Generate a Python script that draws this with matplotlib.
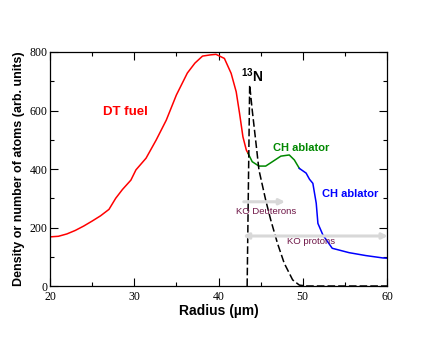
#!/usr/bin/env python3

import numpy as np
import matplotlib
matplotlib.use("Agg")
import matplotlib.pyplot as plt
from matplotlib.ticker import MultipleLocator

# DT fuel (red)
r_fuel = [20, 21, 22, 23, 24, 25, 26, 27, 27.8, 28.6, 29.6, 30.2, 31.4, 32.6, 33.8,
          35.0, 36.3, 37.2, 38.1, 39.0, 39.7, 40.7, 41.5, 42.1, 42.5, 42.9, 43.3, 43.5]
d_fuel = [168, 170, 178, 190, 205, 222, 240, 262, 300, 330, 362, 397, 437, 499, 567,
          653, 728, 762, 786, 790, 792, 778, 727, 664, 590, 510, 465, 454]

# CH ablator, inner part (green)
r_ch1 = [43.5, 44.0, 44.8, 45.6, 46.4, 47.4, 48.4, 49.0, 49.6]
d_ch1 = [454, 425, 410, 410, 425, 444, 448, 431, 402]

# CH ablator, outer part (blue)
r_ch2 = [49.6, 50.4, 50.8, 51.2, 51.6, 51.8, 52.4, 53.5, 55.5, 57.5, 59.5, 60]
d_ch2 = [402, 386, 365, 351, 283, 214, 174, 129, 114, 104, 96, 95]

# 13N distribution (black dashed)
r_n13 = [43.4, 43.7, 44.0, 44.45, 44.8, 45.6, 46.2, 47.0, 47.8, 48.8, 49.6, 50.5, 60]
d_n13 = [0, 687, 602, 488, 397, 294, 226, 146, 78, 21, 3, 0, 0]

# knock-on arrows: (x start, x end, y)
ko_deut = (43.0, 47.9, 288)
ko_prot = (42.9, 60.1, 171)

plt.rcParams['font.family'] = ['Liberation Sans', 'DejaVu Sans']
plt.rcParams['mathtext.fontset'] = 'custom'
plt.rcParams['mathtext.bf'] = 'Liberation Sans:bold'
plt.rcParams['mathtext.rm'] = 'Liberation Sans'

fig = plt.figure(figsize=(4.36, 3.37), dpi=100)
ax = fig.add_axes([0.1147, 0.1513, 0.7729, 0.6944])

ax.plot(r_fuel, d_fuel, color='red', lw=1.1)
ax.plot(r_ch1, d_ch1, color='#008800', lw=1.1)
ax.plot(r_ch2, d_ch2, color='blue', lw=1.1)
ax.plot(r_n13, d_n13, color='black', lw=1.1, ls=(0, (5, 2)), clip_on=False)

ax.annotate('', xy=(ko_deut[1], ko_deut[2]), xytext=(ko_deut[0], ko_deut[2]),
            arrowprops=dict(arrowstyle='-|>', color='#d8d8d8', lw=2.2, mutation_scale=8,
                            shrinkA=0, shrinkB=0))
ax.annotate('', xy=(ko_prot[1], ko_prot[2]), xytext=(ko_prot[0], ko_prot[2]),
            arrowprops=dict(arrowstyle='<|-|>', color='#d8d8d8', lw=2.2, mutation_scale=8,
                            shrinkA=0, shrinkB=0), annotation_clip=False)

ax.text(29.0, 595, 'DT fuel', color='red', fontsize=9.5, fontweight='bold',
        ha='center', va='center')
ax.text(49.8, 472, 'CH ablator', color='#008800', fontsize=8, fontweight='bold',
        ha='center', va='center')
ax.text(55.6, 315, 'CH ablator', color='blue', fontsize=8, fontweight='bold',
        ha='center', va='center')
ax.text(45.6, 254, 'KO Deuterons', color='#6e1546', fontsize=6.8,
        ha='center', va='center')
ax.text(51.0, 151, 'KO protons', color='#6e1546', fontsize=6.8,
        ha='center', va='center')
ax.text(44.0, 718, r'$^{\mathbf{13}}$N', color='black', fontsize=10, fontweight='bold',
        ha='center', va='center')

ax.set_xlim(20, 60)
ax.set_ylim(0, 800)
ax.xaxis.set_major_locator(MultipleLocator(10))
ax.xaxis.set_minor_locator(MultipleLocator(5))
ax.yaxis.set_major_locator(MultipleLocator(200))
ax.yaxis.set_minor_locator(MultipleLocator(100))
ax.tick_params(which='both', direction='in', top=True, right=True, width=0.8)
ax.tick_params(which='major', length=6, labelsize=8.5)
ax.tick_params(axis='x', which='major', pad=3.5)
ax.tick_params(axis='y', which='major', pad=2)
ax.tick_params(which='minor', length=3)
for lab in ax.get_xticklabels() + ax.get_yticklabels():
    lab.set_fontfamily('Liberation Serif')
for sp in ax.spines.values():
    sp.set_linewidth(0.9)

ax.set_xlabel('Radius (\u00b5m)', fontsize=10, fontweight='bold', labelpad=1)
ax.set_ylabel('Density or number of atoms (arb. units)', fontsize=9,
              fontweight='bold', labelpad=3)

fig.savefig('out.png', dpi=100)
